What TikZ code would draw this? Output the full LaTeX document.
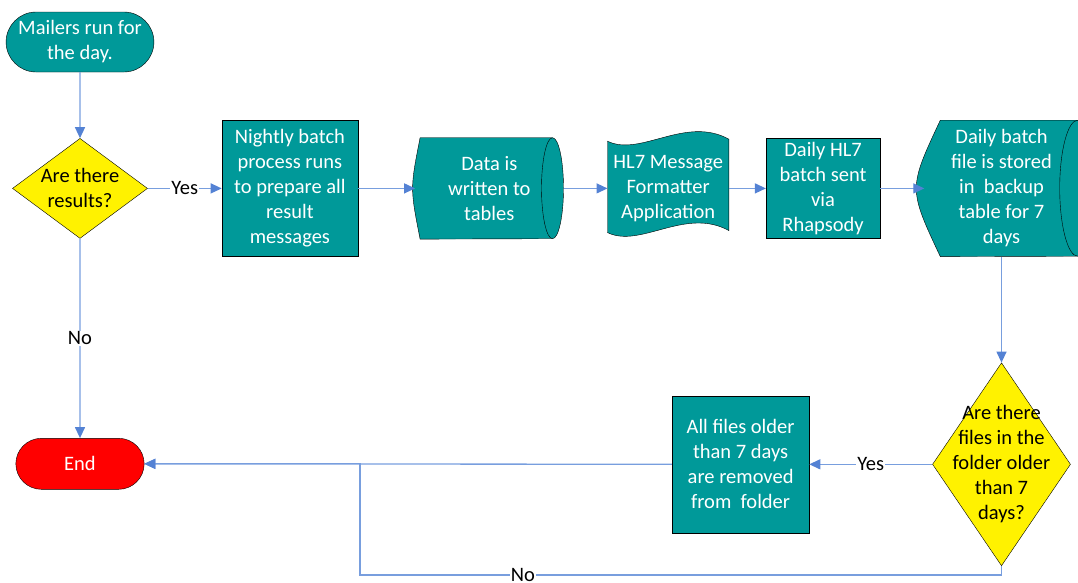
\documentclass[tikz,border=0pt]{standalone}
\usepackage{fontspec}
\setmainfont{Carlito}
\usepackage{tikz}
\usetikzlibrary{shapes.geometric, shapes.misc, arrows.meta, positioning, calc, backgrounds}
\definecolor{flowteal}{RGB}{0,153,153}
\definecolor{flowline}{RGB}{120,158,222}
\definecolor{flowtip}{RGB}{84,130,212}
\tikzstyle{boxfont} = [font=\fontsize{20.5}{25}\selectfont, align=center]
\tikzstyle{terminal} = [rounded rectangle, boxfont, minimum width=135pt, draw=black, thin, text=white]
\tikzstyle{process} = [rectangle, boxfont, draw=black, thin, fill=flowteal, text=white, inner sep=2pt]
\tikzstyle{decision} = [diamond, minimum width=135pt, minimum height=100pt, inner sep=0pt, draw=black, thin, fill=yellow]
\tikzstyle{dectext} = [boxfont, text=black, inner sep=0pt]
\tikzstyle{stored} = [rectangle, boxfont, text=white, inner sep=2pt]
\tikzstyle{outline} = [draw=black, thin, fill=flowteal]
\tikzstyle{lbl} = [boxfont, fill=white, inner sep=1pt, text=black]
\tikzstyle{arrow} = [line width=1.3pt, draw=flowline, -{Triangle[length=11pt,width=10pt,color=flowtip]}]

\begin{document}
\begin{tikzpicture}[x=1pt, y=-1pt]
\useasboundingbox (0,0) rectangle (1078,582);
\node (start) [terminal, fill=flowteal, minimum height=60pt] at (80,42) {Mailers run for\\the day.};
\node (results) [decision, below=66pt of start] {};
\node (resultsTxt) [dectext] at (results) {Are there\\results?};
\node (proc1) [process, right=74pt of results, minimum width=136pt, minimum height=136pt] {Nightly batch\\process runs\\to prepare all\\result\\messages};
\node (data1) [stored, right=57pt of proc1, minimum width=148pt, minimum height=101pt] {Data is\\written to\\tables};
\node (format) [stored, right=44pt of data1, minimum width=121pt, minimum height=90pt] {HL7 Message\\Formatter\\Application};
\node (send) [process, right=37pt of format, minimum width=114pt, minimum height=100pt] {Daily HL7\\batch sent\\via\\Rhapsody};
\node (backup) [stored, right=44pt of send, minimum width=154pt, minimum height=136pt] {Daily batch\\file is stored\\in~ backup\\table for 7\\days};
\node (older) [decision, below=106pt of backup, minimum width=138pt, minimum height=203pt] {};
\node (olderTxt) [dectext] at (older) {Are there\\files in the\\folder older\\than 7\\days?};
\node (remove) [process, left=123pt of older, minimum width=137pt, minimum height=137pt] {All files older\\than 7 days\\are removed\\from~ folder};
\node (end) [terminal, fill=red, minimum height=51pt, below=199.5pt of results] {End};
\coordinate (noloop) at (360,575);

% stored data and tape outlines behind the text
\begin{pgfonlayer}{background}
\path[outline] ($(data1.north west)+(5,0)$) -- ($(data1.north east)+(-11,0)$) arc[start angle=90, end angle=-90, x radius=11pt, y radius=50.5pt] -- ($(data1.south west)+(5,0)$) .. controls ($(data1.west)+(-5,0)$) .. ($(data1.north west)+(5,0)$) -- cycle;
\draw ($(data1.north east)+(-11,0)$) arc[start angle=90, end angle=270, x radius=11pt, y radius=50.5pt];
\path[outline] ($(backup.north west)+(16,0)$) -- ($(backup.north east)+(-1,0)$) arc[start angle=90, end angle=-90, x radius=18pt, y radius=68pt] -- ($(backup.south west)+(16,0)$) .. controls ($(backup.west)+(-16,0)$) .. ($(backup.north west)+(16,0)$) -- cycle;
\draw ($(backup.north east)+(-1,0)$) arc[start angle=90, end angle=270, x radius=18pt, y radius=68pt];
\path[outline] ($(format.north west)+(0,-2)$) .. controls ($(format.north west)+(33,14)$) and ($(format.north west)+(78,-28)$) .. ($(format.north east)+(0,-4)$) -- ($(format.south east)+(0,-3)$) .. controls ($(format.south west)+(78,-27)$) and ($(format.south west)+(33,15)$) .. ($(format.south west)+(0,-1)$) -- cycle;
\end{pgfonlayer}

\draw [arrow] (start) -- (results);
\draw [arrow] (results) -- node[lbl] {Yes} (proc1);
\draw [arrow] (proc1) -- (data1);
\draw [arrow] (data1) -- (format);
\draw [arrow] (format) -- (send);
\draw [arrow] (send) -- (backup);
\draw [arrow] (backup) -- (older);
\draw [arrow] (results) -- node[lbl] {No} (end);
\draw [arrow] (older) -- node[lbl] {Yes} (remove);
\draw [arrow] (remove) -- (end);
\draw [arrow] (older.south) |- node[lbl, pos=0.873] {No} (noloop) |- (end.east);
\end{tikzpicture}
\end{document}
